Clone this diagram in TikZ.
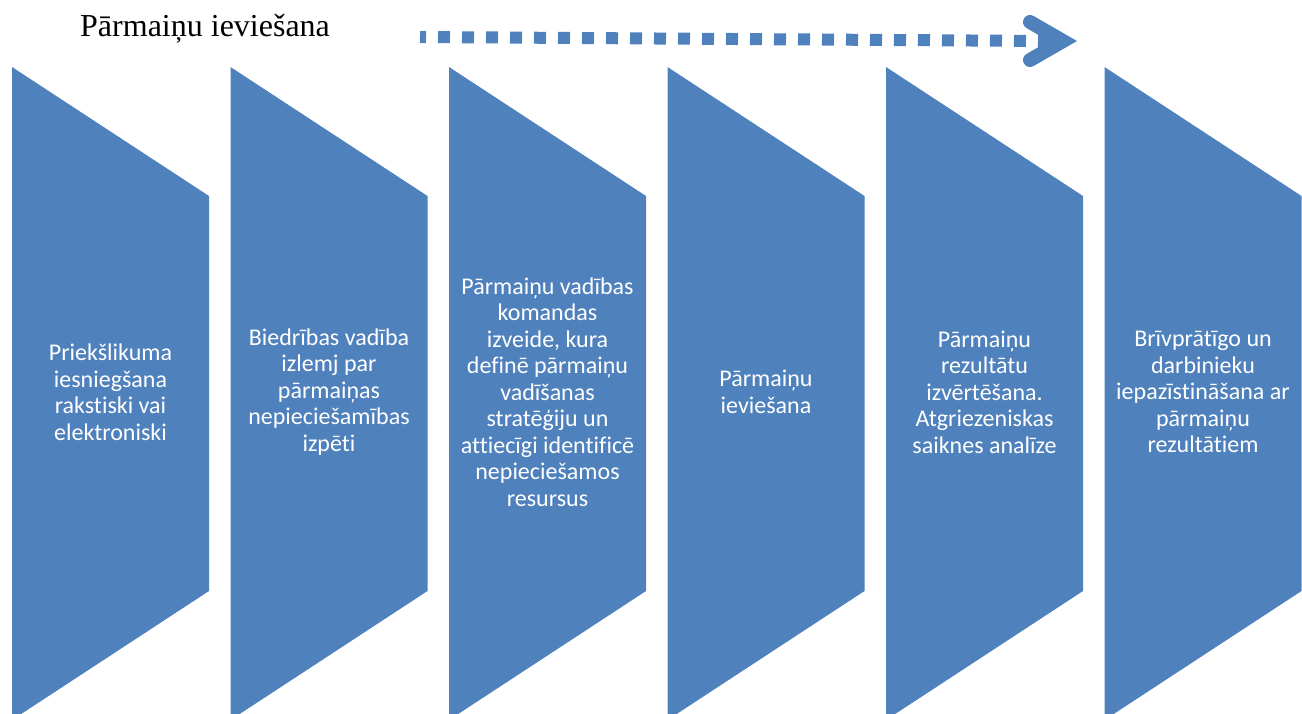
\documentclass[tikz,border=0pt]{standalone}
\usepackage{fontspec}
\setmainfont{Liberation Serif}
\newfontfamily\stagefont[Ligatures={NoCommon}]{Carlito}
\usepackage{xcolor}
\usepackage{tikz}
\definecolor{stageblue}{RGB}{79,129,189}

\begin{document}
\begin{tikzpicture}[x=1pt,y=-1pt]
      \tikzstyle{stage}=[fill=stageblue, draw=none]
      \tikzstyle{stage_text}=[text=white, align=center, inner sep=0pt, font=\stagefont\fontsize{24}{26.5}\selectfont]
      \tikzstyle{title_text}=[anchor=base west, inner sep=0pt, font=\fontsize{32}{38}\selectfont]
      \tikzstyle{flow_dots}=[draw=stageblue, line width=12pt, dash pattern=on 12pt off 12pt, dash phase=6pt]
      \tikzstyle{flow_head}=[draw=stageblue, line width=14pt, line cap=round, miter limit=10]

      \useasboundingbox (0,0) rectangle (1302,713);
      \clip (0,0) rectangle (1302,713);

      \node [title_text] (title) at (80,36) {Pārmaiņu ieviešana};

      \coordinate (dots_start) at (420,37);
      \coordinate (dots_end) at (1050,41);
      \coordinate (head_top) at (1030,22);
      \coordinate (head_tip) at (1063,41);
      \coordinate (head_bottom) at (1030,60);
      \draw [flow_dots] (dots_start) -- (dots_end);
      \draw [flow_head] (head_top) -- (head_tip) -- (head_bottom);

      \begin{scope}
        \fill [stage] (12,67) -- (209,196) -- (209,591) -- (12,720) -- cycle;
        \node [stage_text] (step1) at (110.5,392) {Priekšlikuma\\iesniegšana\\rakstiski vai\\elektroniski};
      \end{scope}

      \begin{scope}[xshift=218.5pt]
        \fill [stage] (12,67) -- (209,196) -- (209,591) -- (12,720) -- cycle;
        \node [stage_text] (step2) at (110.5,392) {Biedrības vadība\\izlemj par\\pārmaiņas\\nepieciešamības\\izpēti};
      \end{scope}

      \begin{scope}[xshift=437pt]
        \fill [stage] (12,67) -- (209,196) -- (209,591) -- (12,720) -- cycle;
        \node [stage_text] (step3) at (110.5,392) {Pārmaiņu vadības\\komandas\\izveide, kura\\definē pārmaiņu\\vadīšanas\\stratēģiju un\\attiecīgi identificē\\nepieciešamos\\resursus};
      \end{scope}

      \begin{scope}[xshift=655.5pt]
        \fill [stage] (12,67) -- (209,196) -- (209,591) -- (12,720) -- cycle;
        \node [stage_text] (step4) at (110.5,392) {Pārmaiņu\\ieviešana};
      \end{scope}

      \begin{scope}[xshift=874pt]
        \fill [stage] (12,67) -- (209,196) -- (209,591) -- (12,720) -- cycle;
        \node [stage_text] (step5) at (110.5,392) {Pārmaiņu\\rezultātu\\izvērtēšana.\\Atgriezeniskas\\saiknes analīze};
      \end{scope}

      \begin{scope}[xshift=1092.5pt]
        \fill [stage] (12,67) -- (209,196) -- (209,591) -- (12,720) -- cycle;
        \node [stage_text] (step6) at (110.5,392) {Brīvprātīgo un\\darbinieku\\iepazīstināšana ar\\pārmaiņu\\rezultātiem};
      \end{scope}
    \end{tikzpicture}
\end{document}
